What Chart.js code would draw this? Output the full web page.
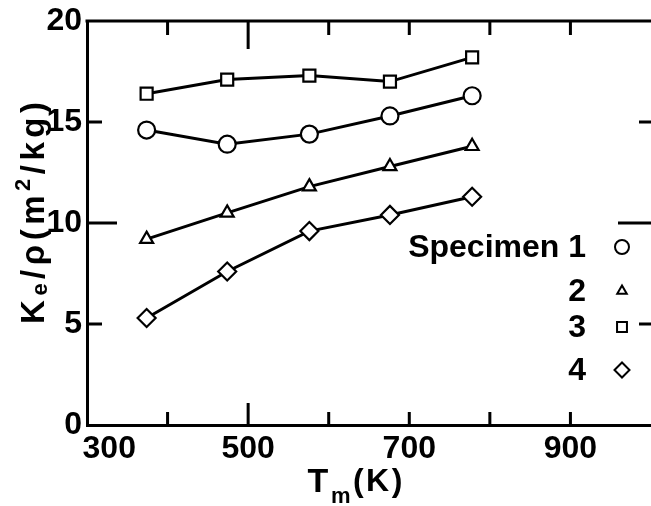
<!DOCTYPE html>
<html>
<head>
<meta charset="utf-8">
<script src="https://cdn.jsdelivr.net/npm/chart.js@4.4.0/dist/chart.umd.min.js"></script>
<style>
  html, body { margin: 0; padding: 0; background: #fff; }
  #wrap { width: 651px; height: 506px; }
</style>
</head>
<body>
<div id="wrap"><canvas id="keChart" width="651" height="506"></canvas></div>
<script>
// Datos
const temps = [374, 474, 576, 676, 778];           // Tm (K)
const spec1 = [14.6, 13.9, 14.4, 15.3, 16.3];       // circulo
const spec2 = [9.2, 10.5, 11.8, 12.8, 13.8];        // triangulo
const spec3 = [16.4, 17.1, 17.3, 17.0, 18.2];       // cuadrado
const spec4 = [5.3, 7.6, 9.6, 10.4, 11.3];          // rombo
const seriesNames = ['Specimen 1', '2', '3', '4'];
const xTickLabels = [300, 500, 700, 900];
const yTickLabels = [0, 5, 10, 15, 20];

const FONT = '"Liberation Sans", Arial, sans-serif';
const styles = ['circle', 'triangle', 'rect', 'rectRot'];
const radii = [8.5, 7.5, 8.5, 9];

function toPoints(ys) {
    return ys.map((y, i) => ({ x: temps[i], y: y }));
}

const datasets = [spec1, spec2, spec3, spec4].map((ys, i) => ({
    label: seriesNames[i],
    data: toPoints(ys),
    showLine: true,
    borderColor: '#000',
    borderWidth: 3,
    pointStyle: styles[i],
    pointRadius: radii[i],
    pointBorderWidth: 2.2,
    pointBackgroundColor: '#fff',
    pointBorderColor: '#000'
}));

// texto con subindices / superindices
function drawRuns(ctx, runs, cx, baseY, spacing) {
    let total = 0;
    runs.forEach(r => {
        ctx.font = 'bold ' + r[1] + 'px ' + FONT;
        r.w = ctx.measureText(r[0]).width;
        total += r.w;
    });
    total += spacing * (runs.length - 1);
    let x = cx - total / 2;
    ctx.textAlign = 'left';
    ctx.textBaseline = 'alphabetic';
    runs.forEach(r => {
        ctx.font = 'bold ' + r[1] + 'px ' + FONT;
        ctx.fillText(r[0], x, baseY + r[2]);
        x += r.w + spacing;
    });
}

function mark(ctx, style, r, x, y) {
    Chart.helpers.drawPoint(ctx, { pointStyle: style, radius: r, borderWidth: 2 }, x, y);
}

const decorPlugin = {
    id: 'decor',
    afterDraw(chart) {
        const ctx = chart.ctx;
        const xs = chart.scales.x, ys = chart.scales.y;
        const a = chart.chartArea;
        ctx.save();
        ctx.strokeStyle = '#000';
        ctx.fillStyle = '#000';

        // marco superior
        ctx.lineWidth = 3;
        ctx.beginPath();
        ctx.moveTo(a.left - 1.5, a.top);
        ctx.lineTo(a.right, a.top);
        ctx.stroke();

        // marcas hacia dentro
        ctx.lineWidth = 3;
        for (let t = 400; t <= 900; t += 100) {
            const px = xs.getPixelForValue(t);
            const big = t === 500;
            ctx.beginPath();
            ctx.moveTo(px, a.bottom);
            ctx.lineTo(px, a.bottom - (big ? 22 : 13));
            ctx.moveTo(px, a.top);
            ctx.lineTo(px, a.top + (big ? 28 : 14));
            ctx.stroke();
        }
        [5, 10, 15].forEach(v => {
            const py = ys.getPixelForValue(v);
            const big = v === 10;
            ctx.beginPath();
            ctx.moveTo(a.left, py);
            ctx.lineTo(a.left + (big ? 30 : 15), py);
            ctx.moveTo(a.right, py);
            ctx.lineTo(a.right - (big ? 33 : 12), py);
            ctx.stroke();
        });

        // leyenda
        const legY = [247, 291, 327, 370];
        const legR = [7, 5.5, 7, 7.5];
        ctx.font = 'bold 32px ' + FONT;
        ctx.textAlign = 'right';
        ctx.textBaseline = 'middle';
        seriesNames.forEach((name, i) => {
            ctx.fillStyle = '#000';
            ctx.fillText(name, 586, legY[i] + 1);
            ctx.fillStyle = '#fff';
            ctx.lineWidth = 2;
            mark(ctx, styles[i], legR[i], 622, legY[i]);
        });
        ctx.fillStyle = '#000';

        // titulo eje x
        drawRuns(ctx, [['T', 34, 0], ['m', 22, 11], ['(', 32, -1], ['K', 32, -1], [')', 32, -1]], 355, 492, 2.5);

        // titulo eje y
        ctx.translate(44, 213);
        ctx.rotate(-Math.PI / 2);
        drawRuns(ctx, [
            ['K', 33, 0], ['e', 22, 3], ['/', 33, 0], ['ρ', 33, 0], ['(', 33, 0],
            ['m', 33, 0], ['2', 22, -14], ['/', 33, 0], ['k', 33, 0], ['g', 33, 0], [')', 33, 0]
        ], 0, 0, 4.5);
        ctx.restore();
    }
};

const ctx = document.getElementById('keChart').getContext('2d');
const keChart = new Chart(ctx, {
    type: 'scatter',
    data: { datasets: datasets },
    options: {
        responsive: false,
        animation: false,
        layout: { autoPadding: false, padding: { top: 17, right: 0, left: 0, bottom: 0 } },
        plugins: { legend: { display: false }, tooltip: { enabled: false } },
        scales: {
            x: {
                type: 'linear',
                min: 300,
                max: 1000,
                afterFit: s => { s.height = 81; s.paddingRight = 0; s.paddingLeft = 0; },
                grid: { display: false, drawTicks: false },
                border: { display: true, color: '#000', width: 3 },
                ticks: {
                    stepSize: 100,
                    autoSkip: false,
                    maxRotation: 0,
                    padding: 8,
                    color: '#000',
                    font: { family: FONT, size: 32, weight: 'bold', lineHeight: 1 },
                    callback: v => xTickLabels.includes(v) ? (v === 300 ? '     300' : String(v)) : ''
                }
            },
            y: {
                min: 0,
                max: 20,
                afterFit: s => { s.width = 87; },
                grid: { display: false, drawTicks: false },
                border: { display: true, color: '#000', width: 3 },
                ticks: {
                    stepSize: 5,
                    padding: 5,
                    color: '#000',
                    font: { family: FONT, size: 32, weight: 'bold', lineHeight: 1 },
                    callback: v => yTickLabels.includes(v) ? String(v) : ''
                }
            }
        }
    },
    plugins: [decorPlugin]
});
</script>
</body>
</html>
